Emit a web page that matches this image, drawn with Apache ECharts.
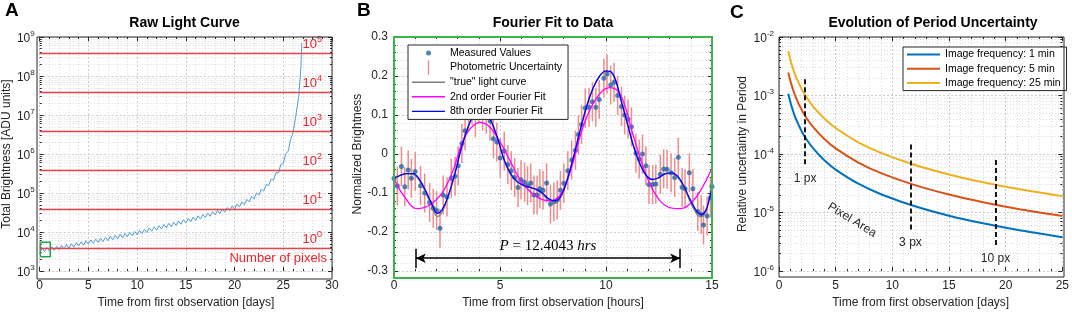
<!DOCTYPE html>
<html><head><meta charset="utf-8">
<script src="https://cdn.jsdelivr.net/npm/echarts@6/dist/echarts.min.js"></script>
<style>html,body{margin:0;padding:0;background:#fff}#c{width:1072px;height:314px}</style>
</head><body><div id="c"></div>
<script>
// ---------- Panel A: raw light curve ----------
const lcDays = [0,0.25,0.5,0.75,1,1.25,1.5,1.75,2,2.25,2.5,2.75,3,3.25,3.5,3.75,4,4.25,4.5,4.75,5,5.25,5.5,5.75,6,6.25,6.5,6.75,7,7.25,7.5,7.75,8,8.25,8.5,8.75,9,9.25,9.5,9.75,10,10.25,10.5,10.75,11,11.25,11.5,11.75,12,12.25,12.5,12.75,13,13.25,13.5,13.75,14,14.25,14.5,14.75,15,15.25,15.5,15.75,16,16.25,16.5,16.75,17,17.25,17.5,17.75,18,18.25,18.5,18.75,19,19.25,19.5,19.75,20,20.25,20.5,20.75,21,21.25,21.5,21.75,22,22.25,22.5,22.75,23,23.25,23.5,23.75,24,24.25,24.5,24.75,25,25.25,25.5,25.75,26,26.3,26.6,26.8,26.9];
const lcBrightness = [3020,3870,3130,4005,3240,4170,3390,4365,3550,4570,3715,4790,3890,5040,4120,5340,4365,5660,4620,5990,4900,6310,5130,6610,5370,6960,5690,7370,6030,7800,6380,8270,6760,8760,7160,9280,7590,9830,8040,10410,8510,11090,9120,11890,9770,12740,10470,13650,11220,14620,12020,15670,12880,16790,13800,17990,14790,19280,15850,20650,16980,22260,18410,24130,19950,26150,21630,28350,23440,30730,25410,33310,27540,36100,29850,39130,32360,42660,35480,46770,38900,52180,44160,59230,50120,68790,59570,81750,70790,100000,89130,125900,112200,166000,154900,229100,213800,335000,331000,543000,562000,1020000,1170000,2320000,3550000,1.0e7,3.16e7,1.58e8,7.08e8];
const pixelThresholds = [3900, 39000, 390000, 3.9e6, 3.9e7, 3.9e8];
const pixelExponents = [0, 1, 2, 3, 4, 5];
const boxDays = [0.07, 1.09];
const boxBrightness = [2320, 5460];

// ---------- Panel B: Fourier fit ----------
const obsHours = [0,0.16,0.35,0.51,0.67,0.82,1.0,1.25,1.45,1.68,1.85,2.01,2.17,2.32,2.5,2.7,2.88,3.03,3.2,3.35,3.52,3.68,3.84,4.0,4.18,4.35,4.53,4.69,4.85,5.01,5.2,5.37,5.53,5.69,5.85,5.99,6.16,6.3,6.45,6.6,6.75,6.88,7.03,7.2,7.38,7.54,7.7,7.85,8.01,8.2,8.38,8.56,8.7,8.85,9.02,9.2,9.36,9.52,9.68,9.9,10.05,10.22,10.38,10.55,10.73,10.88,11.04,11.2,11.41,11.57,11.72,11.88,12.03,12.2,12.35,12.56,12.72,12.88,13.07,13.24,13.41,13.59,13.73,13.93,14.1,14.33,14.49,14.6,14.77,14.93,15.0];
const obsValues = [-0.062,-0.082,-0.032,-0.084,-0.041,-0.062,-0.045,-0.081,-0.100,-0.124,-0.139,-0.145,-0.190,-0.105,-0.110,-0.062,-0.057,-0.030,0.027,0.060,0.110,0.125,0.093,0.130,0.110,0.102,0.085,0.039,0.031,-0.010,0.008,-0.027,-0.043,-0.060,-0.086,-0.066,-0.072,-0.081,-0.074,-0.105,-0.105,-0.089,-0.093,-0.074,-0.128,-0.122,-0.118,-0.093,-0.075,-0.043,-0.015,0.010,0.050,0.076,0.118,0.120,0.134,0.120,0.140,0.194,0.205,0.177,0.184,0.150,0.122,0.100,0.090,0.070,0.002,-0.013,0.000,-0.030,-0.078,-0.078,-0.077,-0.052,-0.038,-0.039,-0.048,-0.060,-0.008,-0.085,-0.089,-0.048,-0.089,-0.147,-0.155,-0.182,-0.159,-0.112,-0.083];
const obsError = 0.05;
const fit8Hours = [0,0.3,0.6,0.9,1.2,1.5,1.8,2.05,2.3,2.6,2.9,3.2,3.5,3.8,4.05,4.3,4.6,4.9,5.2,5.5,5.8,6.1,6.4,6.7,7.0,7.3,7.6,7.9,8.2,8.5,8.8,9.1,9.4,9.7,10.0,10.2,10.45,10.7,11.0,11.3,11.6,11.9,12.2,12.5,12.8,13.1,13.4,13.7,14.0,14.3,14.5,14.7,14.85,15.0];
const fit8Values = [-0.062,-0.055,-0.05,-0.05,-0.065,-0.095,-0.13,-0.152,-0.14,-0.1,-0.045,0.02,0.07,0.105,0.115,0.108,0.082,0.038,-0.015,-0.05,-0.07,-0.08,-0.085,-0.09,-0.1,-0.115,-0.12,-0.105,-0.06,0.0,0.065,0.125,0.17,0.2,0.213,0.212,0.19,0.14,0.08,0.02,-0.025,-0.055,-0.065,-0.06,-0.05,-0.048,-0.058,-0.085,-0.12,-0.148,-0.155,-0.145,-0.12,-0.085];
const trueValues = [-0.06,-0.054,-0.05,-0.052,-0.068,-0.1,-0.136,-0.16,-0.146,-0.102,-0.044,0.021,0.071,0.106,0.116,0.108,0.081,0.036,-0.017,-0.052,-0.071,-0.081,-0.086,-0.092,-0.103,-0.119,-0.126,-0.108,-0.062,-0.001,0.064,0.124,0.17,0.2,0.212,0.211,0.189,0.139,0.079,0.019,-0.026,-0.056,-0.066,-0.061,-0.051,-0.05,-0.061,-0.089,-0.126,-0.155,-0.161,-0.15,-0.122,-0.084];
const fit2Hours = [0,0.5,1.1,1.7,2.3,2.8,3.2,3.6,4.05,4.5,5.0,5.5,6.0,6.5,7.0,7.4,7.9,8.4,8.8,9.3,9.8,10.2,10.7,11.3,11.8,12.3,12.9,13.5,14.1,14.6,15.0];
const fit2Values = [-0.063,-0.11,-0.14,-0.13,-0.097,-0.04,0.027,0.065,0.081,0.07,0.031,-0.02,-0.07,-0.1,-0.117,-0.12,-0.1,-0.03,0.05,0.12,0.16,0.17,0.15,0.045,-0.04,-0.1,-0.135,-0.14,-0.12,-0.08,-0.035];
const periodHours = [1.03, 13.5];
const periodLevel = -0.267;
const periodTick = [-0.243, -0.292];

// ---------- Panel C: period uncertainty ----------
const cDays = [0.82,1,1.25,1.5,2,2.5,3,4,5,7,9,12,15,18,21,25];
const unc1min = [1.07e-3,7.73e-4,5.35e-4,3.95e-4,2.46e-4,1.70e-4,1.26e-4,7.83e-5,5.42e-5,3.11e-5,2.06e-5,1.28e-5,8.83e-6,6.55e-6,5.07e-6,3.80e-6];
const unc5min = [2.48e-3,1.79e-3,1.24e-3,9.14e-4,5.69e-4,3.93e-4,2.91e-4,1.81e-4,1.25e-4,7.16e-5,4.73e-5,2.94e-5,2.03e-5,1.50e-5,1.16e-5,8.71e-6];
const unc25min = [5.69e-3,4.09e-3,2.82e-3,2.08e-3,1.29e-3,8.87e-4,6.55e-4,4.05e-4,2.79e-4,1.59e-4,1.05e-4,6.48e-5,4.47e-5,3.30e-5,2.55e-5,1.91e-5];
const markerDays = [2.3, 11.6, 19.1];
const markerTop = [1.9e-3, 1.45e-4, 7.9e-5];
const markerBottom = [6e-5, 5e-6, 2.6e-6];
const markerLabels = ['1 px', '3 px', '10 px'];

// ---------- helpers ----------
const FONT = "'Liberation Sans', Arial, Helvetica, sans-serif";
const TXT = '#262626';
const RED = '#e8242c';
const zip = (a, b) => a.map((v, i) => [v, b[i]]);
const majorGrid = { show: true, lineStyle: { color: '#cdcdcd', width: 1, type: [2, 2] } };
const minorGrid = { show: true, lineStyle: { color: '#dcdcdc', width: 1, type: [1, 2] } };
const supRich = {
  b: { fontSize: 12, color: TXT, fontFamily: FONT, lineHeight: 15, verticalAlign: 'bottom' },
  s: { fontSize: 8, color: TXT, fontFamily: FONT, lineHeight: 8, verticalAlign: 'top' }
};
const lineIcon = 'path://M0,0M33,14M0,6.3h33v1.4h-33z';
function xAx(grid, min, max, name) {
  return {
    gridIndex: grid, type: 'value', min, max, interval: 5,
    axisLine: { show: false, onZero: false },
    axisTick: { inside: true, length: 4, lineStyle: { color: TXT } },
    minorTick: { show: true, splitNumber: 5, length: 2, lineStyle: { color: TXT } },
    splitLine: majorGrid, minorSplitLine: minorGrid,
    axisLabel: { color: TXT, fontSize: 12, fontFamily: FONT, margin: 9 },
    name, nameLocation: 'middle', nameGap: 25,
    nameTextStyle: { color: TXT, fontSize: 12, fontFamily: FONT }
  };
}
// mirrored tick-only axes on the top / right of each box
function xTop(grid, min, max) {
  return {
    gridIndex: grid, type: 'value', min, max, interval: 5, position: 'top',
    axisLine: { show: false, onZero: false },
    axisTick: { inside: true, length: 4, lineStyle: { color: TXT } },
    minorTick: { show: true, splitNumber: 5, length: 2, lineStyle: { color: TXT } },
    splitLine: { show: false }, axisLabel: { show: false }
  };
}
function yRight(grid, type, min, max, extra) {
  return Object.assign({
    gridIndex: grid, type, min, max, position: 'right',
    axisLine: { show: false, onZero: false },
    axisTick: { inside: true, length: 4, lineStyle: { color: TXT } },
    minorTick: { show: true, splitNumber: type === 'log' ? 9 : 5, length: 2, lineStyle: { color: TXT } },
    splitLine: { show: false }, axisLabel: { show: false }
  }, extra);
}
function logY(grid, min, max, split, name, gap) {
  return {
    gridIndex: grid, type: 'log', logBase: 10, min, max, splitNumber: split,
    axisLine: { show: false, onZero: false },
    axisTick: { inside: true, length: 4, lineStyle: { color: TXT } },
    minorTick: { show: true, splitNumber: 9, length: 2, lineStyle: { color: TXT } },
    splitLine: majorGrid, minorSplitLine: minorGrid,
    axisLabel: {
      margin: 5,
      formatter: v => '{b|10}{s|' + Math.round(Math.log10(v)) + '}',
      rich: supRich
    },
    name, nameLocation: 'middle', nameGap: gap,
    nameTextStyle: { color: TXT, fontSize: 12, fontFamily: FONT }
  };
}
const redRich = {
  b: { fontSize: 13, color: RED, fontFamily: FONT, lineHeight: 16, verticalAlign: 'bottom' },
  s: { fontSize: 9, color: RED, fontFamily: FONT, lineHeight: 9, verticalAlign: 'top' }
};
const frame = (x, y, w, h, c, lw) => ({ type: 'rect', silent: true, z: 50, shape: { x, y, width: w, height: h }, style: { fill: 'none', stroke: c, lineWidth: lw } });

const option = {
  animation: false,
  backgroundColor: '#fff',
  textStyle: { fontFamily: FONT },
  title: [
    { text: 'A', left: 5, top: 1, padding: 0, textStyle: { fontSize: 19, fontWeight: 'bold', color: '#000', fontFamily: FONT } },
    { text: 'B', left: 357, top: 1, padding: 0, textStyle: { fontSize: 19, fontWeight: 'bold', color: '#000', fontFamily: FONT } },
    { text: 'C', left: 730, top: 3, padding: 0, textStyle: { fontSize: 19, fontWeight: 'bold', color: '#000', fontFamily: FONT } },
    { text: 'Raw Light Curve', left: 184.5, top: 16, padding: 0, textAlign: 'center', textStyle: { fontSize: 14, fontWeight: 'bold', color: '#000', fontFamily: FONT } },
    { text: 'Fourier Fit to Data', left: 553, top: 16, padding: 0, textAlign: 'center', textStyle: { fontSize: 14, fontWeight: 'bold', color: '#000', fontFamily: FONT } },
    { text: 'Evolution of Period Uncertainty', left: 933, top: 16, padding: 0, textAlign: 'center', textStyle: { fontSize: 14, fontWeight: 'bold', color: '#000', fontFamily: FONT } }
  ],
  legend: [
    {
      orient: 'vertical', left: 408, top: 45, itemWidth: 33, itemHeight: 14, itemGap: 0.6,
      padding: [1, 6, 1, 4], backgroundColor: '#fff', borderColor: TXT, borderWidth: 1,
      selectedMode: false,
      textStyle: { fontFamily: FONT, fontSize: 10.5, color: '#000' },
      data: [
        { name: 'Measured Values', icon: 'path://M0,0M33,14M14,7a2.5,2.5 0 1,0 5,0a2.5,2.5 0 1,0 -5,0' },
        { name: 'Photometric Uncertainty', icon: 'path://M0,0M33,14M15.8,0h1.4v14h-1.4z' },
        { name: '"true" light curve', icon: lineIcon },
        { name: '2nd order Fourier Fit', icon: lineIcon },
        { name: '8th order Fourier Fit', icon: lineIcon }
      ]
    },
    {
      orient: 'vertical', left: 903, top: 47, itemWidth: 33, itemHeight: 13, itemGap: 1.3,
      padding: [1, 6, 1, 4], backgroundColor: '#fff', borderColor: TXT, borderWidth: 1,
      selectedMode: false,
      textStyle: { fontFamily: FONT, fontSize: 10.5, color: '#000' },
      data: [
        { name: 'Image frequency: 1 min', icon: 'path://M0,0M33,13M0,5.5h33v2h-33z' },
        { name: 'Image frequency: 5 min', icon: 'path://M0,0M33,13M0,5.5h33v2h-33z' },
        { name: 'Image frequency: 25 min', icon: 'path://M0,0M33,13M0,5.5h33v2h-33z' }
      ]
    }
  ],
  grid: [
    { left: 37, top: 37, width: 295, height: 242 },
    { left: 394, top: 37, width: 318, height: 241 },
    { left: 779, top: 37, width: 285, height: 240 }
  ],
  xAxis: [
    xAx(0, 0, 30, 'Time from first observation [days]'),
    xAx(1, 0, 15, 'Time from first observation [hours]'),
    xAx(2, 0, 25, 'Time from first observation [days]'),
    xTop(0, 0, 30), xTop(1, 0, 15), xTop(2, 0, 25)
  ],
  yAxis: [
    logY(0, 1e3, 1e9, 6, 'Total Brightness [ADU units]', 24),
    {
      gridIndex: 1, type: 'value', min: -0.3, max: 0.3, interval: 0.1,
      axisLine: { show: false, onZero: false },
      axisTick: { inside: true, length: 4, lineStyle: { color: TXT } },
      minorTick: { show: true, splitNumber: 5, length: 2, lineStyle: { color: TXT } },
      splitLine: majorGrid, minorSplitLine: minorGrid,
      axisLabel: { color: TXT, fontSize: 12, fontFamily: FONT, margin: 6, formatter: v => (Math.round(v * 10) / 10).toString() },
      name: 'Normalized Brightness', nameLocation: 'middle', nameGap: 28,
      nameTextStyle: { color: TXT, fontSize: 12, fontFamily: FONT }
    },
    logY(2, 1e-6, 1e-2, 4, 'Relative uncertainty in Period', 30),
    yRight(0, 'log', 1e3, 1e9, { logBase: 10, splitNumber: 6 }),
    yRight(1, 'value', -0.3, 0.3, { interval: 0.1 }),
    yRight(2, 'log', 1e-6, 1e-2, { logBase: 10, splitNumber: 4 })
  ],
  graphic: [
    frame(37, 37, 295, 242, TXT, 1),
    frame(394, 37, 318, 241, '#3cb44b', 2),
    frame(779, 37, 285, 240, TXT, 1),
    { type: 'text', x: 852, y: 220, rotation: -0.55, z: 100,
      style: { text: 'Pixel Area', align: 'center', verticalAlign: 'middle', font: '12px ' + FONT, fill: TXT } }
  ],
  series: [
    // A
    {
      name: 'Light curve', type: 'line', xAxisIndex: 0, yAxisIndex: 0, data: zip(lcDays, lcBrightness),
      showSymbol: false, symbol: 'none', lineStyle: { color: '#4f9fd6', width: 1 }, itemStyle: { color: '#4f9fd6' },
      z: 3
    },
    {
      name: 'Pixel thresholds', type: 'line', xAxisIndex: 0, yAxisIndex: 0, data: [], z: 2,
      itemStyle: { color: RED }, lineStyle: { color: RED },
      markLine: {
        silent: true, symbol: 'none', animation: false,
        lineStyle: { color: RED, width: 1.4, type: 'solid' },
        data: pixelThresholds.map((v, i) => ({
          yAxis: v,
          lineStyle: { color: '#e5464c', width: 1.4, type: 'solid' },
          label: { show: true, position: 'insideEndTop', distance: [10, 2], formatter: '{b|10}{s|' + pixelExponents[i] + '}', rich: redRich }
        }))
      }
    },
    {
      name: 'Zoom box', type: 'line', xAxisIndex: 0, yAxisIndex: 0,
      data: [[boxDays[0], boxBrightness[0]], [boxDays[1], boxBrightness[0]], [boxDays[1], boxBrightness[1]], [boxDays[0], boxBrightness[1]], [boxDays[0], boxBrightness[0]]],
      showSymbol: false, symbol: 'none', lineStyle: { color: '#1fa64a', width: 1.5 }, z: 4,
      markLine: {
        silent: true, symbol: 'none', animation: false,
        lineStyle: { color: 'rgba(0,0,0,0)', width: 0 },
        data: [{
          yAxis: pixelThresholds[0],
          label: { show: true, position: 'insideEndBottom', distance: [5, 4], formatter: 'Number of pixels', color: RED, fontSize: 13, fontFamily: FONT }
        }]
      }
    },
    // B
    {
      name: 'Photometric Uncertainty', type: 'custom', xAxisIndex: 1, yAxisIndex: 1,
      data: zip(obsHours, obsValues), encode: { x: 0, y: 1 }, clip: true,
      itemStyle: { color: '#ef8b8b' },
      renderItem: (params, api) => {
        const x = api.value(0), y = api.value(1);
        const a = api.coord([x, y + obsError]);
        const b = api.coord([x, y - obsError]);
        return { type: 'line', shape: { x1: a[0], y1: a[1], x2: b[0], y2: b[1] }, style: { stroke: '#ef8b8b', lineWidth: 1.5 } };
      }
    },
    {
      name: 'Measured Values', type: 'scatter', xAxisIndex: 1, yAxisIndex: 1,
      data: zip(obsHours, obsValues), symbolSize: 5, itemStyle: { color: '#2466a8' }
    },
    {
      name: '"true" light curve', type: 'line', xAxisIndex: 1, yAxisIndex: 1,
      data: zip(fit8Hours, trueValues), smooth: 0.4, showSymbol: false, symbol: 'none',
      lineStyle: { color: '#7f7f7f', width: 1.2 }, itemStyle: { color: '#7f7f7f' }
    },
    {
      name: '2nd order Fourier Fit', type: 'line', xAxisIndex: 1, yAxisIndex: 1,
      data: zip(fit2Hours, fit2Values), smooth: 0.4, showSymbol: false, symbol: 'none',
      lineStyle: { color: '#ff00ff', width: 1.3 }, itemStyle: { color: '#ff00ff' }
    },
    {
      name: '8th order Fourier Fit', type: 'line', xAxisIndex: 1, yAxisIndex: 1,
      data: zip(fit8Hours, fit8Values), smooth: 0.4, showSymbol: false, symbol: 'none',
      lineStyle: { color: '#0000ff', width: 1.3 }, itemStyle: { color: '#0000ff' },
      markLine: {
        silent: true, animation: false, symbol: ['arrow', 'arrow'], symbolSize: [7, 10],
        lineStyle: { color: '#000', width: 1.5, type: 'solid' },
        data: [
          [
            { coord: [periodHours[0], periodLevel], label: { show: true, position: 'insideMiddleTop', distance: 5,
              formatter: '{i|P}{n| = 12.4043 }{i|hrs}',
              rich: { i: { fontSize: 15, fontStyle: 'italic', fontFamily: "'Liberation Serif', 'DejaVu Serif', serif", color: '#000' },
                      n: { fontSize: 15, fontFamily: "'Liberation Serif', 'DejaVu Serif', serif", color: '#000' } } } },
            { coord: [periodHours[1], periodLevel] }
          ],
          [ { coord: [periodHours[0], periodTick[0]], symbol: 'none', label: { show: false } }, { coord: [periodHours[0], periodTick[1]], symbol: 'none' } ],
          [ { coord: [periodHours[1], periodTick[0]], symbol: 'none', label: { show: false } }, { coord: [periodHours[1], periodTick[1]], symbol: 'none' } ]
        ]
      }
    },
    // C
    {
      name: 'Image frequency: 1 min', type: 'line', xAxisIndex: 2, yAxisIndex: 2,
      data: zip(cDays, unc1min), smooth: 0.3, showSymbol: false, symbol: 'none',
      lineStyle: { color: '#0072bd', width: 2 }, itemStyle: { color: '#0072bd' }
    },
    {
      name: 'Image frequency: 5 min', type: 'line', xAxisIndex: 2, yAxisIndex: 2,
      data: zip(cDays, unc5min), smooth: 0.3, showSymbol: false, symbol: 'none',
      lineStyle: { color: '#d95319', width: 2 }, itemStyle: { color: '#d95319' }
    },
    {
      name: 'Image frequency: 25 min', type: 'line', xAxisIndex: 2, yAxisIndex: 2,
      data: zip(cDays, unc25min), smooth: 0.3, showSymbol: false, symbol: 'none',
      lineStyle: { color: '#edb120', width: 2 }, itemStyle: { color: '#edb120' },
      markLine: {
        silent: true, animation: false, symbol: 'none',
        lineStyle: { color: '#000', width: 1.8, type: [5, 3] },
        data: markerDays.map((d, i) => [
          { coord: [d, markerTop[i]], label: { show: true, position: 'end', distance: 6, formatter: markerLabels[i], color: TXT, fontSize: 12, fontFamily: FONT } },
          { coord: [d, markerBottom[i]] }
        ])
      }
    }
  ]
};
const chart = echarts.init(document.getElementById('c'), null, { renderer: 'canvas' });
chart.setOption(option);
</script></body></html>
